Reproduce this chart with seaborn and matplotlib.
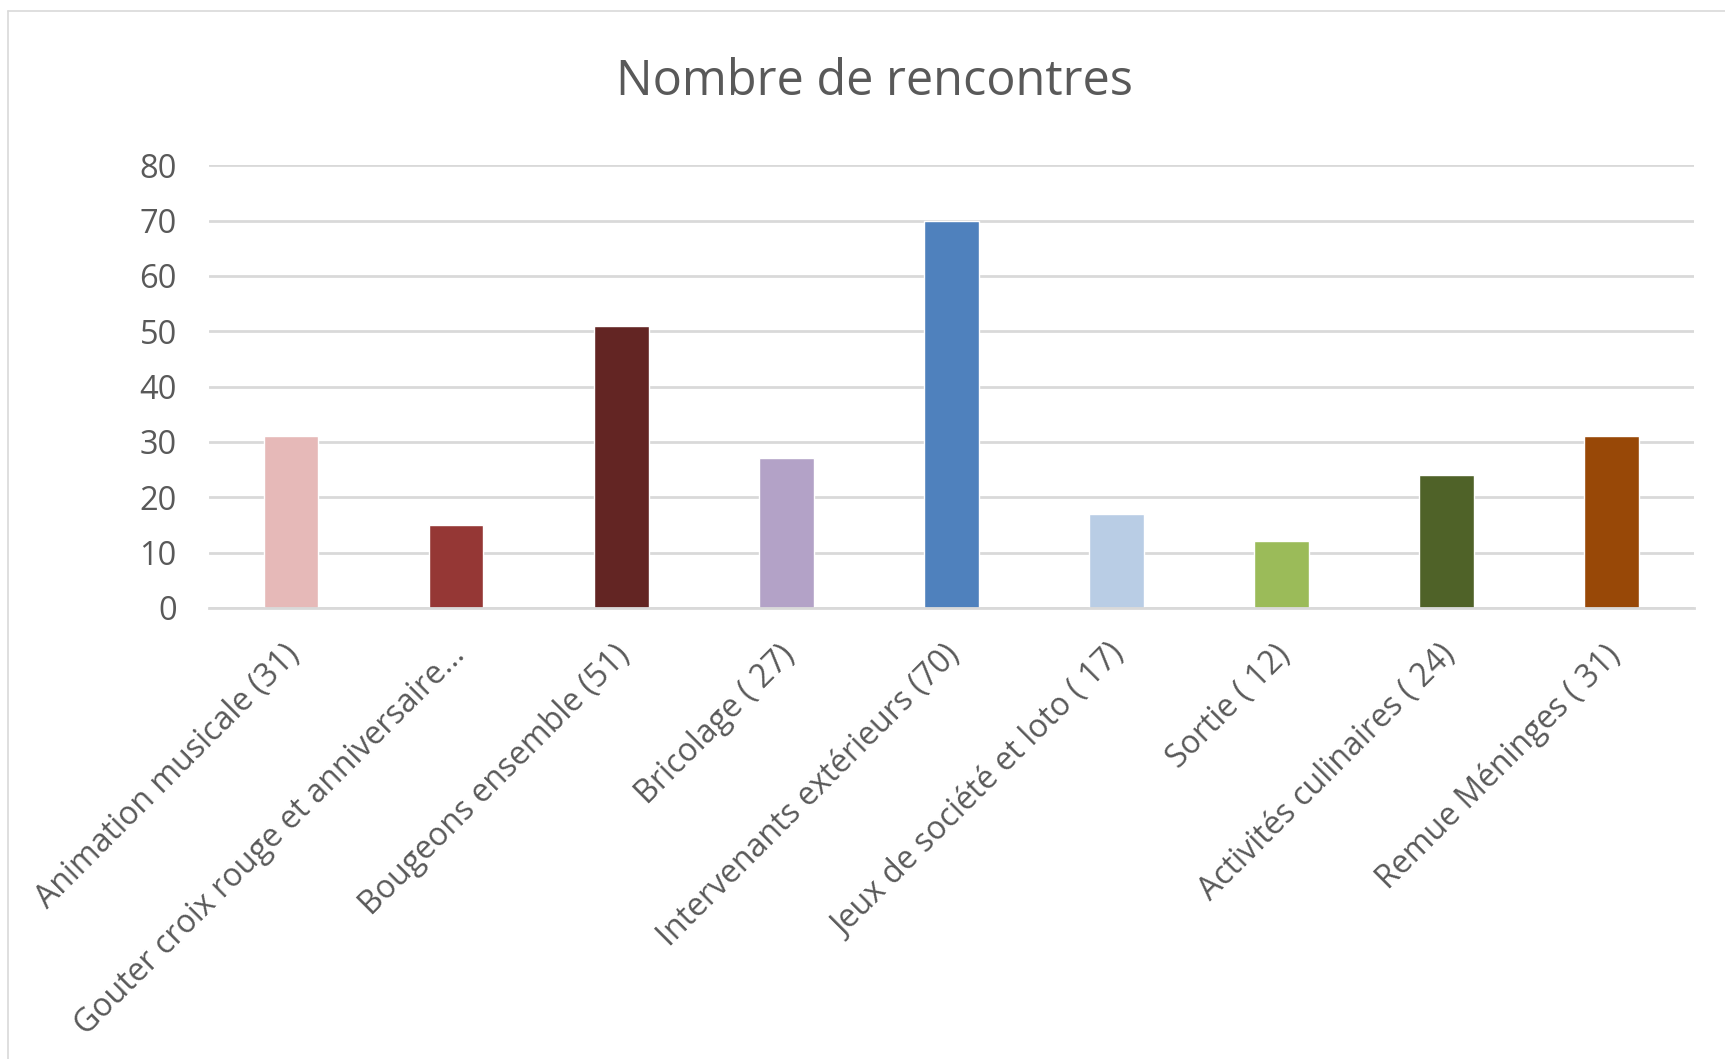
import matplotlib
matplotlib.use("Agg")
import matplotlib.pyplot as plt
import matplotlib.transforms as mtransforms
import seaborn as sns
from matplotlib.lines import Line2D

# données
categories = [
    "Animation musicale (31)",
    "Gouter croix rouge et anniversaire...",
    "Bougeons ensemble (51)",
    "Bricolage ( 27)",
    "Intervenants extérieurs (70)",
    "Jeux de société et loto ( 17)",
    "Sortie ( 12)",
    "Activités culinaires ( 24)",
    "Remue Méninges ( 31)",
]
valeurs = [31, 15, 51, 27, 70, 17, 12, 24, 31]
couleurs = ["#E6B9B8", "#953735", "#632523", "#B3A2C7", "#4F81BD",
            "#B9CDE5", "#9BBB59", "#4F6228", "#984807"]
yticks = [0, 10, 20, 30, 40, 50, 60, 70, 80]

sns.set_style("white")
plt.rcParams["font.family"] = ["Open Sans", "DejaVu Sans"]
gris = "#595959"

fig = plt.figure(figsize=(17.25, 10.59), dpi=100)
ax = fig.add_axes([0.121, 0.426, 0.861, 0.418])

sns.barplot(x=categories, y=valeurs, hue=categories, palette=couleurs,
            legend=False, width=0.33, saturation=1, ax=ax)

ax.set_ylim(0, 80)
ax.set_xlim(-0.5, len(categories) - 0.5)
ax.set_yticks(yticks)
ax.set_yticklabels([str(v) for v in yticks], fontsize=23.5, color=gris)
ax.set_xticks(range(len(categories)))
ax.set_xticklabels(categories, rotation=45, ha="right", rotation_mode="anchor",
                   fontsize=23, color=gris)
ax.tick_params(axis="y", length=0, pad=23)
ax.tick_params(axis="x", length=0, pad=22)
# petit décalage des étiquettes vers la gauche
decal = mtransforms.ScaledTranslation(-0.08, 0, fig.dpi_scale_trans)
for lab in ax.get_xticklabels():
    lab.set_transform(lab.get_transform() + decal)
ax.yaxis.grid(True, color="#D9D9D9", linewidth=2)
ax.set_axisbelow(True)
for s in ["top", "right", "left"]:
    ax.spines[s].set_visible(False)
ax.spines["bottom"].set_color("#D9D9D9")
ax.spines["bottom"].set_linewidth(2)
ax.set_xlabel("")
ax.set_ylabel("")

fig.text(0.507, 0.922, "Nombre de rencontres", ha="center", va="center",
         fontsize=35, color=gris)

# cadre du graphique (capture d'écran)
fig.add_artist(Line2D([0.0046, 0.0046], [0.0, 0.99], transform=fig.transFigure,
                      color="#D9D9D9", linewidth=1.2))
fig.add_artist(Line2D([0.0046, 1.0], [0.99, 0.99], transform=fig.transFigure,
                      color="#D9D9D9", linewidth=1.2))

fig.savefig("out.png", dpi=100)
